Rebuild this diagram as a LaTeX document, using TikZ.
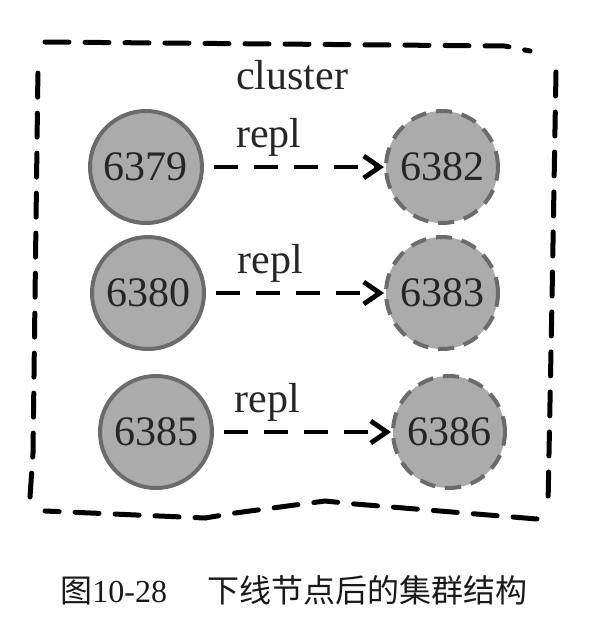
\documentclass[tikz,border=0pt]{standalone}
\usepackage{fontspec}
\setmainfont{Liberation Serif}
\newfontfamily\cjk{Noto Sans CJK SC}
\usetikzlibrary{arrows.meta}

\begin{document}
\begin{tikzpicture}[x=0.5pt, y=-0.5pt,
  master/.style={circle, draw=black!58, fill=black!33, line width=2pt,
    minimum size=56pt, inner sep=0pt, text=black!85,
    font=\fontsize{21}{21}\selectfont},
  replica/.style={master, dash pattern=on 8pt off 5pt},
  repl/.style={line width=2.4pt, dash pattern=on 12pt off 8pt,
    -{Straight Barb[length=8pt,width=11pt]}, shorten <=5pt},
  lbl/.style={font=\fontsize{21}{21}\selectfont, text=black!85}]
  \useasboundingbox (0,0) rectangle (598,638);
  % Cluster border
  \draw[line width=2.5pt, dash pattern=on 12pt off 8pt, line cap=round]
    (45,42) -- (505,46) -- (530,51)
    (556,72) -- (552,300) -- (548,505)
    (537,519) -- (355,504) -- (325,501) -- (235,513) -- (205,518) -- (45,511)
    (30,497) -- (33,453) -- (38,67);
  \node[lbl] (cluster) at (292,75) {cluster};
  % Nodes
  \node[master] (m1) at (146,167) {6379};
  \node[master] (m2) at (148,293) {6380};
  \node[master] (m3) at (156,432) {6385};
  \node[replica] (r1) at (442,167) {6382};
  \node[replica] (r2) at (442,293) {6383};
  \node[replica] (r3) at (449,432) {6386};
  % Replication
  \draw[repl] (m1) -- node[lbl, pos=0.36, anchor=base, yshift=10pt] {repl} (r1);
  \draw[repl] (m2) -- node[lbl, pos=0.36, anchor=base, yshift=10pt] {repl} (r2);
  \draw[repl] (m3) -- node[lbl, pos=0.3, anchor=base, yshift=10pt] {repl} (r3);
  % Caption
  \node[anchor=west, inner sep=0pt, text=black!90, font=\fontsize{16}{16}\selectfont]
    (caption) at (60,590) {{\cjk 图}10-28\hspace{20pt}{\cjk 下线节点后的集群结构}};
\end{tikzpicture}
\end{document}
